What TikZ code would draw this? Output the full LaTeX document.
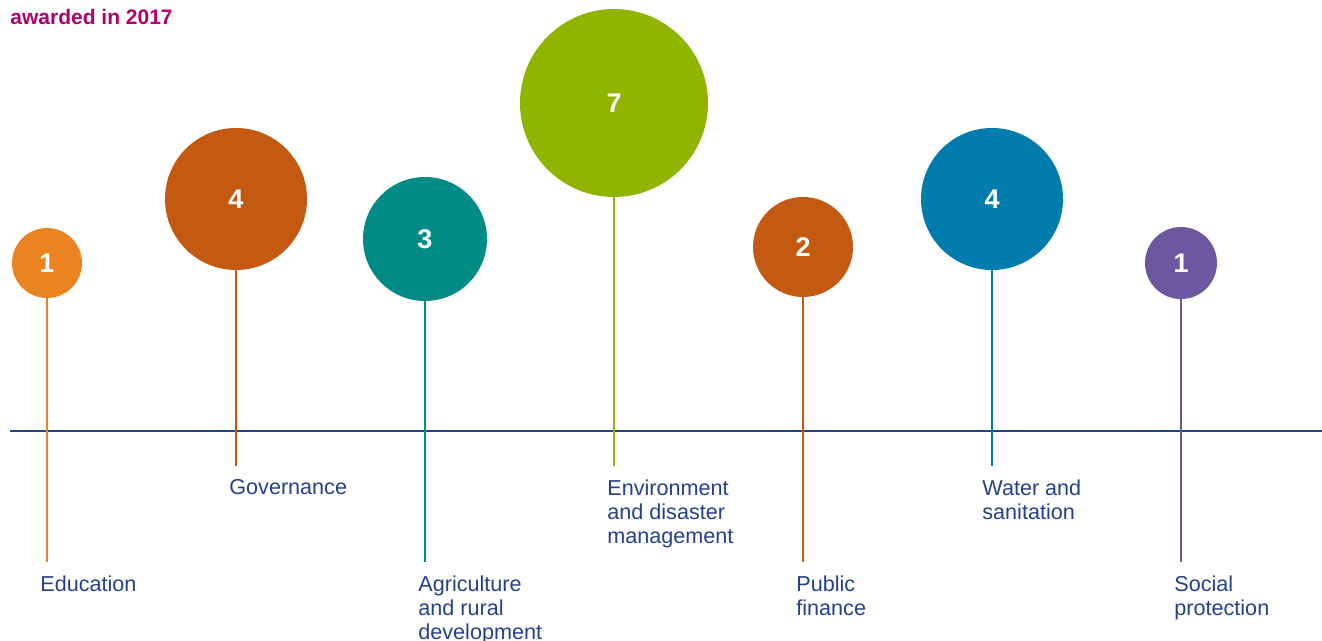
\documentclass[tikz,border=0pt]{standalone}
\usepackage{fontspec}
\setmainfont{Liberation Sans}
\definecolor{cEdu}{HTML}{EA8420}
\definecolor{cGov}{HTML}{C45A12}
\definecolor{cAgr}{HTML}{008B86}
\definecolor{cEnv}{HTML}{90B500}
\definecolor{cWat}{HTML}{007BAE}
\definecolor{cSoc}{HTML}{6B58A0}
\definecolor{cLab}{HTML}{24418C}
\definecolor{cTit}{HTML}{B0006C}
\begin{document}
\begin{tikzpicture}[x=0.5pt,y=-0.5pt,
  bubble/.style={circle,inner sep=0pt,text=white,font=\fontsize{13.5}{15}\selectfont\bfseries},
  stem/.style={line width=0.7pt},
  lab/.style={anchor=north west,align=left,text=cLab,inner sep=0pt,font=\fontsize{10.8}{12}\selectfont}]
\useasboundingbox (0,0) rectangle (1322,641);
\node[anchor=west,text=cTit,inner sep=0pt,font=\fontsize{10.5}{12}\selectfont\bfseries] (title) at (10,17) {awarded in 2017};
\draw[cLab,line width=0.6pt] (10,431) coordinate (axl) -- (1322,431) coordinate (axr);
% bubbles
\node[bubble,fill=cEdu,minimum size=35pt] (b1) at (47,263) {1};
\node[bubble,fill=cGov,minimum size=71pt] (b2) at (236,199) {4};
\node[bubble,fill=cAgr,minimum size=62pt] (b3) at (425,239) {3};
\node[bubble,fill=cEnv,minimum size=94pt] (b4) at (614,103) {7};
\node[bubble,fill=cGov,minimum size=50pt] (b5) at (803,247) {2};
\node[bubble,fill=cWat,minimum size=71pt] (b6) at (992,199) {4};
\node[bubble,fill=cSoc,minimum size=36pt] (b7) at (1181,263) {1};
% stem ends
\coordinate (e1) at (47,562);
\coordinate (e2) at (236,466);
\coordinate (e3) at (425,562);
\coordinate (e4) at (614,466);
\coordinate (e5) at (803,562);
\coordinate (e6) at (992,466);
\coordinate (e7) at (1181,562);
\draw[stem,cEdu] (b1.south) -- (e1);
\draw[stem,cGov] (b2.south) -- (e2);
\draw[stem,cAgr] (b3.south) -- (e3);
\draw[stem,cEnv] (b4.south) -- (e4);
\draw[stem,cGov] (b5.south) -- (e5);
\draw[stem,cWat] (b6.south) -- (e6);
\draw[stem,cSoc] (b7.south) -- (e7);
% labels
\node[lab] (l1) at (40,575) {Education};
\node[lab] (l2) at (229,479) {Governance};
\node[lab] (l3) at (418,575) {Agriculture\\and rural\\development};
\node[lab] (l4) at (607,479) {Environment\\and disaster\\management};
\node[lab] (l5) at (796,575) {Public\\finance};
\node[lab] (l6) at (982,479) {Water and\\sanitation};
\node[lab] (l7) at (1174,575) {Social\\protection};
\end{tikzpicture}
\end{document}
